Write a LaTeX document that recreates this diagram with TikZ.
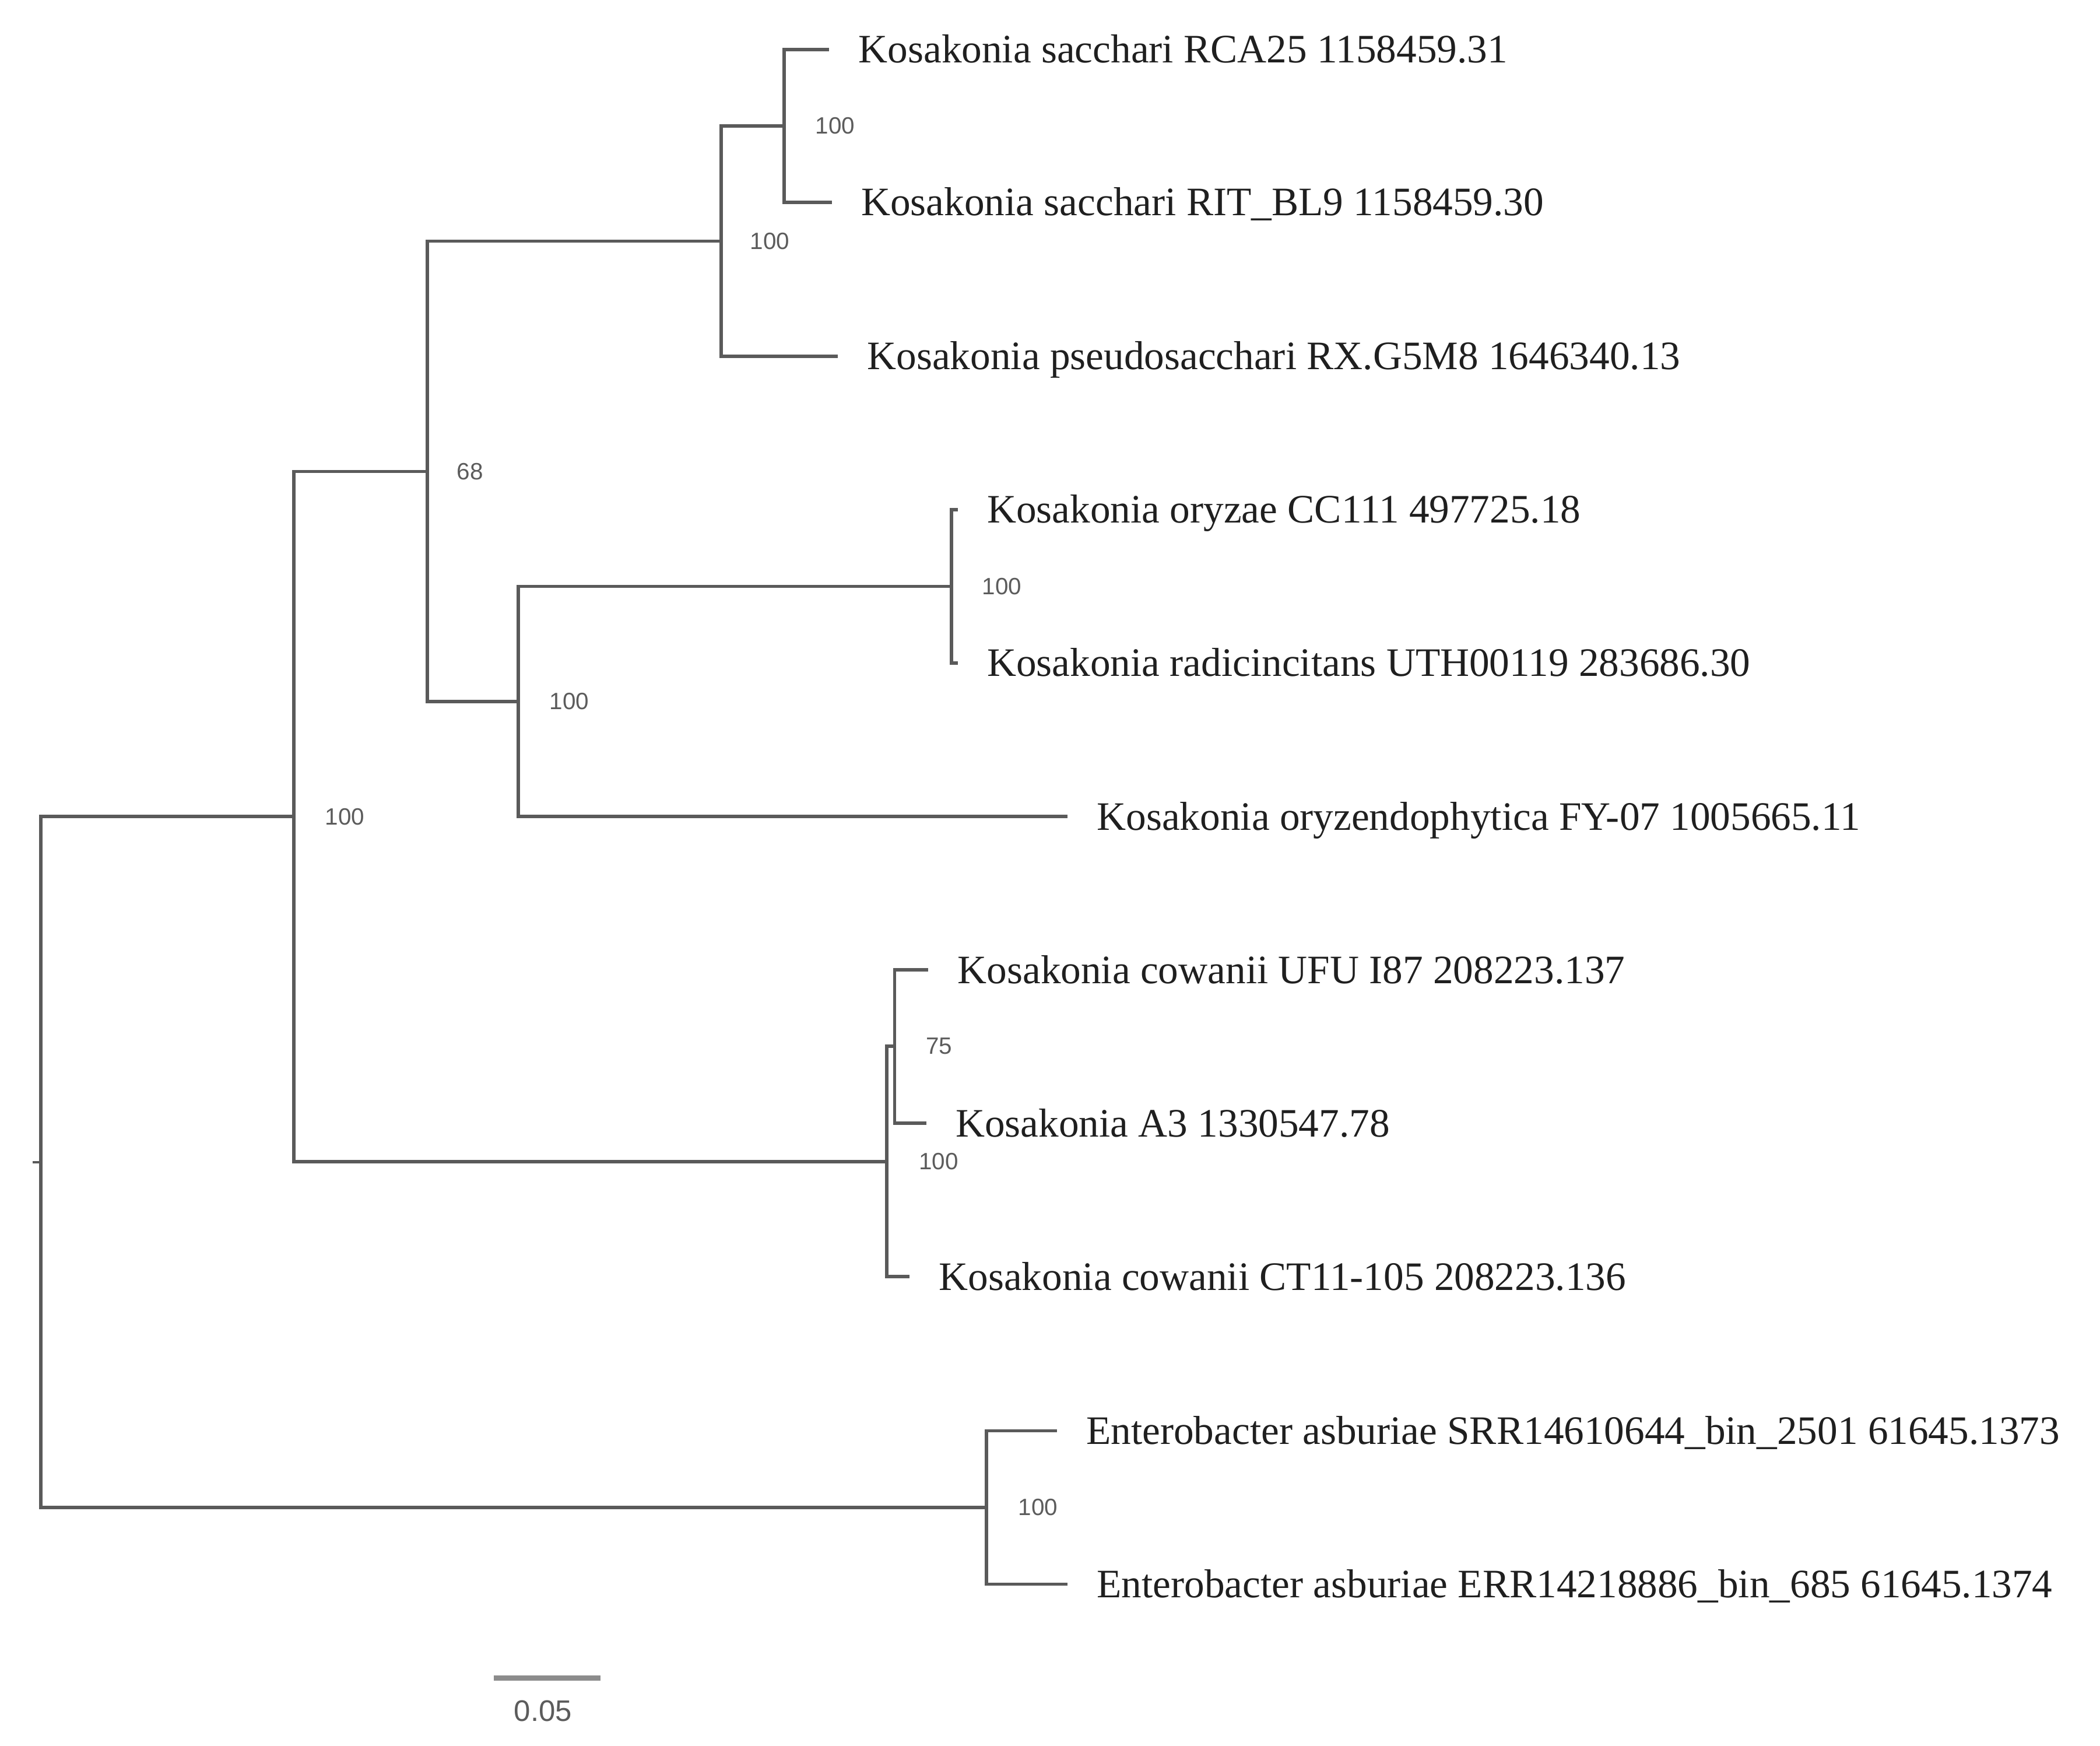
\documentclass[tikz,border=0pt]{standalone}
\usepackage{fontspec}
\setmainfont{Liberation Serif}
\newfontfamily\bootsans{Liberation Sans}
\usetikzlibrary{positioning}
\definecolor{branchgray}{HTML}{5A5A5A}
\definecolor{bootgray}{HTML}{5C5C5C}
\definecolor{bargray}{HTML}{8C8C8C}

\begin{document}
\begin{tikzpicture}[x=0.02297cm, y=-0.02297cm, node distance=0.5cm]
\tikzstyle{branch}=[draw=branchgray, line width=1.6pt, to path={|- (\tikztotarget)}]
\tikzstyle{leaf}=[inner sep=0pt, text height=13pt, text depth=0pt, font=\fontsize{19.7pt}{22pt}\selectfont, text=black!88]
\tikzstyle{boot}=[inner sep=0pt, font=\bootsans\fontsize{11.5pt}{13pt}\selectfont, text=bootgray]

\useasboundingbox (0,0) rectangle (1568,1303);

% internal nodes
\coordinate (R)    at (30.5,867.4);
\coordinate (K)    at (219.5,609.5);
\coordinate (U)    at (319,352);
\coordinate (S2)   at (538.5,180);
\coordinate (S)    at (585.5,94);
\coordinate (O2)   at (387,523.7);
\coordinate (O)    at (710.5,437.7);
\coordinate (C100) at (662,867);
\coordinate (C75)  at (668,781);
\coordinate (E)    at (736.5,1125.3);

% tips
\coordinate (t1)  at (619,37);
\coordinate (t2)  at (621,151);
\coordinate (t3)  at (625.5,266);
\coordinate (t4)  at (715,380.5);
\coordinate (t5)  at (715,495);
\coordinate (t6)  at (797,609.5);
\coordinate (t7)  at (693,724);
\coordinate (t8)  at (691.5,838.5);
\coordinate (t9)  at (679,953);
\coordinate (t10) at (789,1068);
\coordinate (t11) at (797,1182.5);
\coordinate (rt)  at (24.5,867.4);

\path (R)    edge[branch] (K)   edge[branch] (E);
\path (K)    edge[branch] (U)   edge[branch] (C100);
\path (U)    edge[branch] (S2)  edge[branch] (O2);
\path (S2)   edge[branch] (S)   edge[branch] (t3);
\path (S)    edge[branch] (t1)  edge[branch] (t2);
\path (O2)   edge[branch] (O)   edge[branch] (t6);
\path (O)    edge[branch] (t4)  edge[branch] (t5);
\path (C100) edge[branch] (C75) edge[branch] (t9);
\path (C75)  edge[branch] (t7)  edge[branch] (t8);
\path (E)    edge[branch] (t10) edge[branch] (t11);
\draw[line width=1.1pt, branchgray] (rt) -- (R);

\node[leaf] (l1)  [right=of t1]  {Kosakonia sacchari RCA25 1158459.31};
\node[leaf] (l2)  [right=of t2]  {Kosakonia sacchari RIT\_BL9 1158459.30};
\node[leaf] (l3)  [right=of t3]  {Kosakonia pseudosacchari RX.G5M8 1646340.13};
\node[leaf] (l4)  [right=of t4]  {Kosakonia oryzae CC111 497725.18};
\node[leaf] (l5)  [right=of t5]  {Kosakonia radicincitans UTH00119 283686.30};
\node[leaf] (l6)  [right=of t6]  {Kosakonia oryzendophytica FY-07 1005665.11};
\node[leaf] (l7)  [right=of t7]  {Kosakonia cowanii UFU I87 208223.137};
\node[leaf] (l8)  [right=of t8]  {Kosakonia A3 1330547.78};
\node[leaf] (l9)  [right=of t9]  {Kosakonia cowanii CT11-105 208223.136};
\node[leaf] (l10) [right=of t10] {Enterobacter asburiae SRR14610644\_bin\_2501 61645.1373};
\node[leaf] (l11) [right=of t11] {Enterobacter asburiae ERR14218886\_bin\_685 61645.1374};

% bootstrap values
\node[boot] (bK)    [right=0.53cm of K]    {100};
\node[boot] (bU)    [right=0.5cm of U]     {68};
\node[boot] (bS2)   [right=0.49cm of S2]   {100};
\node[boot] (bS)    [right=0.53cm of S]    {100};
\node[boot] (bO2)   [right=0.53cm of O2]   {100};
\node[boot] (bO)    [right=0.52cm of O]    {100};
\node[boot] (bC100) [right=0.55cm of C100] {100};
\node[boot] (bC75)  [right=0.53cm of C75]  {75};
\node[boot] (bE)    [right=0.54cm of E]    {100};

% scale bar
\coordinate (sbL) at (368.6,1252.5);
\coordinate (sbR) at (448.4,1252.5);
\draw[bargray, line width=2.4pt] (sbL) -- (sbR);
\node[boot, font=\bootsans\fontsize{14.5pt}{16pt}\selectfont] (sbtxt) at (405.5,1277) {0.05};
\end{tikzpicture}
\end{document}
